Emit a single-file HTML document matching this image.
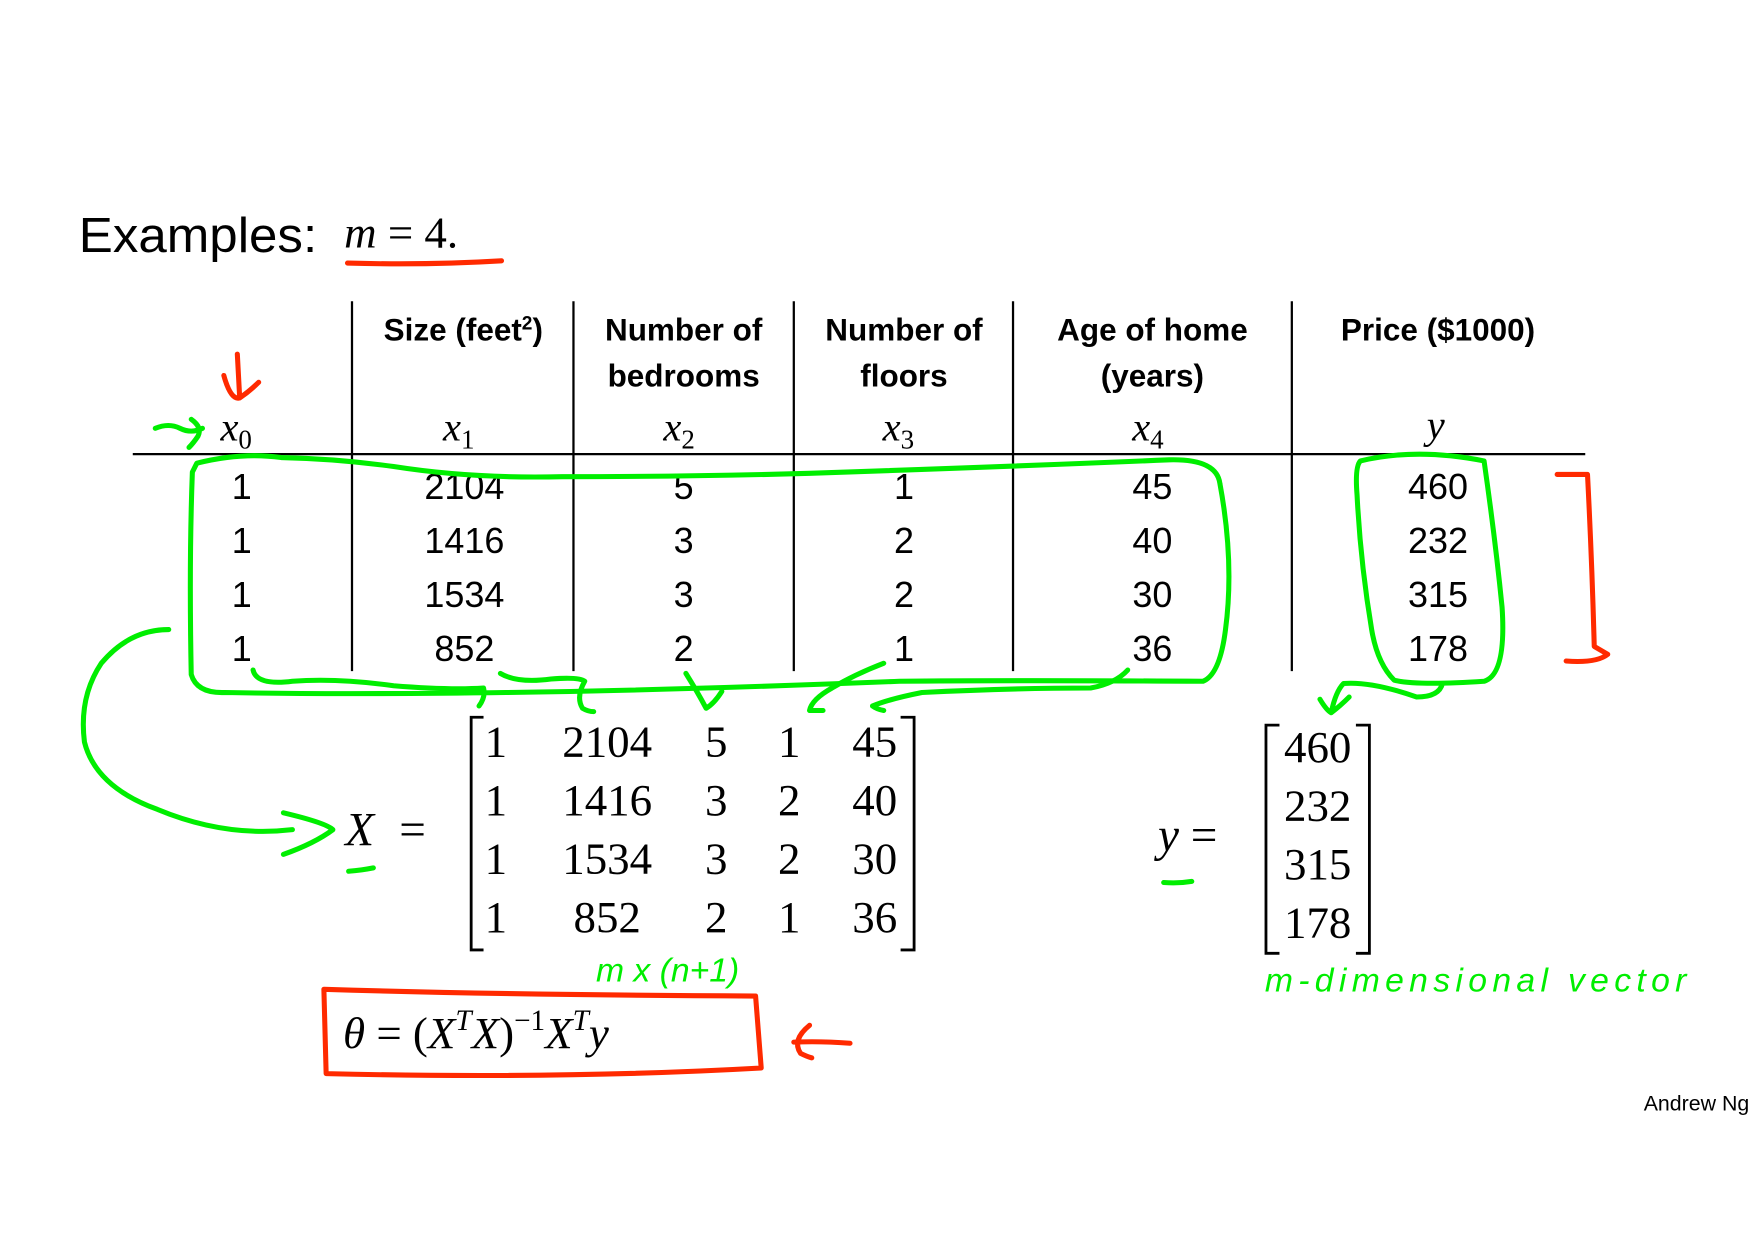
<!DOCTYPE html>
<html><head><meta charset="utf-8"><style>
html,body{margin:0;padding:0;background:#fff;width:1754px;height:1240px;overflow:hidden}
svg{display:block}
.c{font-family:"Liberation Sans",sans-serif}
.h{font-family:"Liberation Sans",sans-serif;font-weight:bold;font-size:28px}
.s{font-family:"Liberation Serif",serif}
.g{fill:none;stroke:#00ee00;stroke-width:4.5;stroke-linecap:round;stroke-linejoin:round}
.r{fill:none;stroke:#ff2a00;stroke-width:4.5;stroke-linecap:round;stroke-linejoin:round}
</style></head><body>
<svg width="1754" height="1240" viewBox="0 0 1560 1103" xmlns="http://www.w3.org/2000/svg">
<rect width="1560" height="1103" fill="#fff"/>
<text x="70" y="224" class="c" font-size="44" textLength="212" lengthAdjust="spacingAndGlyphs">Examples:</text>
<text x="306" y="220" class="s" font-size="40"><tspan font-style="italic">m</tspan> = 4.</text>
<path class="r" d="M309 234 Q380 236 446 232"/>
<!-- table lines -->
<g stroke="#000" stroke-width="2">
<line x1="118" y1="404" x2="1410" y2="404"/>
<line x1="313" y1="268" x2="313" y2="597"/>
<line x1="510" y1="268" x2="510" y2="597"/>
<line x1="706" y1="268" x2="706" y2="597"/>
<line x1="901" y1="268" x2="901" y2="597"/>
<line x1="1149" y1="268" x2="1149" y2="597"/>
</g>
<g class="h" text-anchor="middle">
<text x="412" y="303">Size (feet<tspan font-size="17" dy="-10">2</tspan><tspan dy="10">)</tspan></text>
<text x="608" y="303">Number of</text><text x="608" y="344">bedrooms</text>
<text x="804" y="303">Number of</text><text x="804" y="344">floors</text>
<text x="1025" y="303">Age of home</text><text x="1025" y="344">(years)</text>
<text x="1279" y="303">Price ($1000)</text>
</g>
<g class="s" font-size="36" font-style="italic" text-anchor="middle">
<text x="210" y="392">x<tspan font-style="normal" font-size="24" dy="7">0</tspan></text>
<text x="408" y="392">x<tspan font-style="normal" font-size="24" dy="7">1</tspan></text>
<text x="604" y="392">x<tspan font-style="normal" font-size="24" dy="7">2</tspan></text>
<text x="799" y="392">x<tspan font-style="normal" font-size="24" dy="7">3</tspan></text>
<text x="1021" y="392">x<tspan font-style="normal" font-size="24" dy="7">4</tspan></text>
<text x="1277" y="390">y</text>
</g>
<g class="c" font-size="32" text-anchor="middle">
<text x="215" y="444">1</text><text x="413" y="444">2104</text><text x="608" y="444">5</text><text x="804" y="444">1</text><text x="1025" y="444">45</text><text x="1279" y="444">460</text>
<text x="215" y="492">1</text><text x="413" y="492">1416</text><text x="608" y="492">3</text><text x="804" y="492">2</text><text x="1025" y="492">40</text><text x="1279" y="492">232</text>
<text x="215" y="540">1</text><text x="413" y="540">1534</text><text x="608" y="540">3</text><text x="804" y="540">2</text><text x="1025" y="540">30</text><text x="1279" y="540">315</text>
<text x="215" y="588">1</text><text x="413" y="588">852</text><text x="608" y="588">2</text><text x="804" y="588">1</text><text x="1025" y="588">36</text><text x="1279" y="588">178</text>
</g>
<!-- X matrix -->
<text x="307" y="752" class="s" font-size="42" font-style="italic">X</text>
<text x="355" y="752" class="s" font-size="42">=</text>
<path d="M430 638 H419 V845 H430 M801 638 H813 V845 H801" fill="none" stroke="#000" stroke-width="2.5"/>
<g class="s" font-size="40" text-anchor="middle">
<text x="441" y="673">1</text><text x="540" y="673">2104</text><text x="637" y="673">5</text><text x="702" y="673">1</text><text x="778" y="673">45</text>
<text x="441" y="725">1</text><text x="540" y="725">1416</text><text x="637" y="725">3</text><text x="702" y="725">2</text><text x="778" y="725">40</text>
<text x="441" y="777">1</text><text x="540" y="777">1534</text><text x="637" y="777">3</text><text x="702" y="777">2</text><text x="778" y="777">30</text>
<text x="441" y="829">1</text><text x="540" y="829">852</text><text x="637" y="829">2</text><text x="702" y="829">1</text><text x="778" y="829">36</text>
</g>
<!-- y vector -->
<text x="1030" y="757" class="s" font-size="42"><tspan font-style="italic">y</tspan> =</text>
<path d="M1138 645 H1126 V848 H1138 M1206 645 H1218 V848 H1206" fill="none" stroke="#000" stroke-width="2.5"/>
<g class="s" font-size="40" text-anchor="middle">
<text x="1172" y="678">460</text><text x="1172" y="730">232</text><text x="1172" y="782">315</text><text x="1172" y="834">178</text>
</g>
<!-- theta -->
<path class="r" d="M288 880 Q450 885 672 886 L677 950 Q500 960 290 955 Z"/>
<text x="305" y="932" class="s" font-size="40" font-style="italic">θ <tspan font-style="normal">= (</tspan>X<tspan font-size="26" dy="-16">T</tspan><tspan dy="16">X</tspan><tspan font-style="normal">)</tspan><tspan font-style="normal" font-size="26" dy="-16">−1</tspan><tspan dy="16">X</tspan><tspan font-size="26" dy="-16">T</tspan><tspan dy="16">y</tspan></text>
<path class="r" d="M756 928 Q730 926 706 927 M720 912 Q704 925 712 937 Q718 940 722 941"/>
<!-- red marks -->
<path class="r" d="M211 315 L213 352 M199 334 Q205 356 213 354 Q222 348 230 340"/>
<path class="r" d="M1385 422 L1412 422 Q1416 500 1418 575 L1430 582 Q1420 590 1393 588"/>
<!-- green -->
<path class="g" d="M138 381 Q150 376 160 381 Q170 386 180 381 M170 373 Q180 380 176 388 Q172 394 168 398"/>
<path class="g" d="M175 412 Q215 402 250 407 Q300 408 350 415 Q420 426 500 424 Q620 424 720 421 Q900 415 1040 409 Q1082 408 1085 430 Q1098 500 1090 560 Q1085 600 1070 606 Q900 605 800 606 Q600 614 450 616 Q300 618 200 616 Q175 617 170 600 Q168 500 171 420 Z"/>
<path class="g" d="M1210 410 Q1260 398 1320 410 Q1330 480 1336 540 Q1340 600 1320 606 Q1260 610 1240 605 Q1225 590 1220 560 Q1210 500 1207 440 Q1205 415 1210 410 Z"/>
<path class="g" d="M150 560 Q115 560 90 590 Q70 620 75 660 Q85 700 140 720 Q200 745 260 738 M252 723 Q290 732 296 738 Q280 750 252 760"/>
<path class="g" d="M310 775 Q322 774 332 772 M1035 785 Q1048 786 1060 784"/>
<path class="g" d="M225 596 Q228 610 260 606 Q300 603 350 610 Q400 614 430 612 Q432 620 426 628 M445 599 Q460 608 490 604 Q515 602 520 606 Q512 620 518 630 Q523 633 528 633 M610 599 Q620 615 628 630 Q635 626 642 615 M786 590 Q760 600 740 612 Q722 622 720 632 Q728 632 732 632 M1003 596 Q992 608 970 612 Q900 612 820 616 Q790 622 776 628 Q780 631 786 632 M1283 608 Q1280 620 1260 620 Q1220 606 1195 608 Q1188 615 1184 634 M1174 622 Q1180 632 1184 634 Q1192 628 1200 620"/>
<text x="530" y="873" font-family="'Liberation Sans',sans-serif" font-size="30" fill="#00ee00" font-style="italic">m x (n+1)</text>
<text x="1125" y="882" font-family="'Liberation Sans',sans-serif" font-size="30" fill="#00ee00" font-style="italic" textLength="375">m-dimensional vector</text>
<text x="1462" y="988" class="c" font-size="19">Andrew Ng</text>
</svg>
</body></html>
